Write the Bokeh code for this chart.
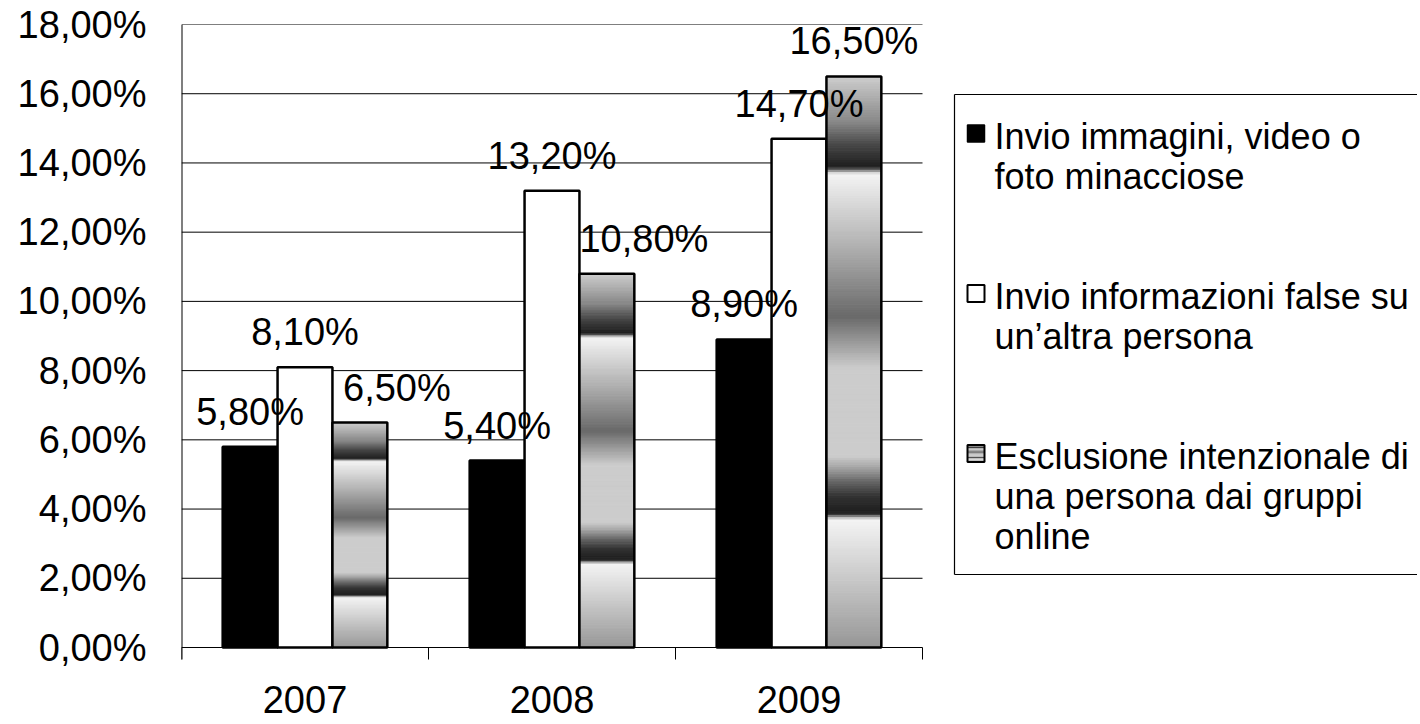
import numpy as np
from bokeh.plotting import figure
from bokeh.models import Range1d, FixedTicker, ColumnDataSource, CustomJSTickFormatter
from bokeh.embed import file_html
from bokeh.resources import INLINE
from bokeh.core.properties import value

# ---------------- data ----------------
years = ["2007", "2008", "2009"]
invio_immagini = [5.8, 5.4, 8.9]          # black bars
invio_informazioni = [8.1, 13.2, 14.7]    # white bars
esclusione = [6.5, 10.8, 16.5]            # gradient bars
y_ticks = [0, 2, 4, 6, 8, 10, 12, 14, 16, 18]
legend_lines = [
    ["Invio immagini, video o", "foto minacciose"],
    ["Invio informazioni false su", "un\u2019altra persona"],
    ["Esclusione intenzionale di", "una persona dai gruppi", "online"],
]

# ---------------- style / layout ----------------
FONT = "Liberation Sans"
BAR_W = 1 / 4.5
BASE_FIX = 11                       # px: lift for alphabetic text placement
label_xoff_px = [[0, 0, 0], [0, 0, 0], [37, 37, 0]]  # manual label nudges (px)
grad_u = [0.0, 0.225, 0.236, 0.265, 0.29, 0.318, 0.336, 0.49, 0.58, 0.70, 0.785, 0.83, 0.842, 0.88, 0.92, 1.0]
grad_g = [150, 244, 30, 50, 100, 170, 204, 204, 105, 175, 220, 244, 30, 70, 135, 205]

N_CAT = len(years)
PLOT_W, PLOT_H = 741, 623          # chart area in px
FRAME_W, FRAME_H = 1236, 698       # frame also hosts legend (right) and year labels (below)
BORDER_L, BORDER_T = 181, 24
Y_MAX = y_ticks[-1]
PPX = PLOT_W / N_CAT               # px per x unit
PPY = PLOT_H / Y_MAX               # px per y unit
X_MAX = FRAME_W / PPX
Y_MIN = Y_MAX - FRAME_H / PPY
TICK = 12 / PPY
YEAR_DY = 52                       # px below the x axis for the year labels


def lx(px):  # px (relative to chart-area left) -> data x
    return px / PPX


def ly(py):  # px (relative to chart-area top) -> data y
    return Y_MAX - py / PPY


def pct(v):
    return f"{v:.2f}%".replace(".", ",")


def gray(u):
    g = int(round(float(np.interp(u, grad_u, grad_g))))
    return "#%02x%02x%02x" % (g, g, g)


p = figure(frame_width=FRAME_W, frame_height=FRAME_H, min_border_left=BORDER_L, min_border_top=BORDER_T,
           min_border_bottom=0, min_border_right=0, x_axis_location=None,
           x_range=Range1d(0, X_MAX), y_range=Range1d(Y_MIN, Y_MAX),
           output_backend="svg", toolbar_location=None)
p.outline_line_color = None
p.background_fill_color = "white"
p.border_fill_color = "white"

# y axis (labels only; line drawn below)
p.yaxis.ticker = FixedTicker(ticks=y_ticks, minor_ticks=[])
p.yaxis.formatter = CustomJSTickFormatter(code="return tick.toFixed(2).replace('.', ',') + '%';")
p.yaxis.major_tick_out = 0
p.yaxis.major_tick_in = 0
p.yaxis.axis_line_color = None
p.yaxis.major_label_standoff = 35
p.yaxis.major_label_text_font = FONT
p.yaxis.major_label_text_font_size = "38px"
p.yaxis.major_label_text_color = "black"
p.grid.visible = False

# gridlines, axis lines and category ticks
p.segment(x0=0, x1=N_CAT, y0=y_ticks[1:], y1=y_ticks[1:], line_color="black", line_width=1)
p.segment(x0=[0], x1=[0], y0=[-TICK], y1=[Y_MAX], line_color="black", line_width=2)
p.segment(x0=[0], x1=[N_CAT], y0=[0], y1=[0], line_color="black", line_width=1)
p.segment(x0=list(range(N_CAT + 1)), x1=list(range(N_CAT + 1)), y0=0, y1=-TICK,
          line_color="black", line_width=1)

centers = [i + 0.5 for i in range(N_CAT)]
series = [invio_immagini, invio_informazioni, esclusione]
offsets = [-BAR_W, 0.0, BAR_W]

# black bars
xs = [c + offsets[0] for c in centers]
p.quad(left=[x - BAR_W / 2 for x in xs], right=[x + BAR_W / 2 for x in xs],
       bottom=0, top=invio_immagini, fill_color="black", line_color="black", line_width=2.5)
# white bars
xs = [c + offsets[1] for c in centers]
p.quad(left=[x - BAR_W / 2 for x in xs], right=[x + BAR_W / 2 for x in xs],
       bottom=0, top=invio_informazioni, fill_color="white", line_color="black", line_width=2.5)
# gradient bars (sliced fill)
N = 240
sl = dict(left=[], right=[], bottom=[], top=[], color=[])
xs = [c + offsets[2] for c in centers]
for x, v in zip(xs, esclusione):
    for k in range(N):
        u0, u1 = k / N, (k + 1) / N
        sl["left"].append(x - BAR_W / 2)
        sl["right"].append(x + BAR_W / 2)
        sl["bottom"].append(v * u0)
        sl["top"].append(v * u1)
        sl["color"].append(gray((u0 + u1) / 2))
p.quad(left="left", right="right", bottom="bottom", top="top", fill_color="color",
       line_color="color", line_width=1, source=ColumnDataSource(sl))
p.quad(left=[x - BAR_W / 2 for x in xs], right=[x + BAR_W / 2 for x in xs],
       bottom=0, top=esclusione, fill_alpha=0, line_color="black", line_width=2.5)

# data labels
lab = dict(x=[], y=[], text=[], xoff=[])
for s, (vals, off) in enumerate(zip(series, offsets)):
    for j, (c, v) in enumerate(zip(centers, vals)):
        lab["x"].append(c + off)
        lab["y"].append(v)
        lab["text"].append(pct(v))
        lab["xoff"].append(label_xoff_px[s][j])
p.text(x="x", y="y", text="text", x_offset="xoff", y_offset=-24 - BASE_FIX, source=ColumnDataSource(lab),
       text_font=value(FONT), text_font_size=value("38px"), text_color="black",
       text_align="center", text_baseline="alphabetic")

# category labels (years)
p.text(x=centers, y=[0] * N_CAT, text=years, y_offset=YEAR_DY,
       text_font=value(FONT), text_font_size=value("38px"), text_color="black",
       text_align="center", text_baseline="alphabetic")

# ---------------- legend (inside the frame, right of the chart area) ----------------
box_l, box_t, box_b = 773, 70, 550       # px, relative to chart-area top-left
right_edge = FRAME_W
p.segment(x0=[lx(box_l)] * 3, y0=[ly(box_t), ly(box_t), ly(box_b)],
          x1=[lx(box_l), lx(right_edge), lx(right_edge)], y1=[ly(box_b), ly(box_t), ly(box_b)],
          line_color="black", line_width=1.2)

sq_cx, sq = 794.5, 17
first_base = [123 + 160 * i for i in range(3)]
sq_cy = [b - 14 for b in first_base]


def sq_quad(i, **kw):
    p.quad(left=[lx(sq_cx - sq / 2)], right=[lx(sq_cx + sq / 2)],
           top=[ly(sq_cy[i] - sq / 2)], bottom=[ly(sq_cy[i] + sq / 2)], **kw)


sq_quad(0, fill_color="black", line_color="black", line_width=1.5)
sq_quad(1, fill_color="white", line_color="black", line_width=2)
M = 17
gsl = dict(left=[], right=[], bottom=[], top=[], color=[])
for k in range(M):
    u0, u1 = k / M, (k + 1) / M
    gsl["left"].append(lx(sq_cx - sq / 2))
    gsl["right"].append(lx(sq_cx + sq / 2))
    gsl["bottom"].append(ly(sq_cy[2] + sq / 2 - sq * u0))
    gsl["top"].append(ly(sq_cy[2] + sq / 2 - sq * u1))
    gsl["color"].append(gray((u0 + u1) / 2))
p.quad(left="left", right="right", bottom="bottom", top="top", fill_color="color",
       line_color="color", line_width=0.5, source=ColumnDataSource(gsl))
sq_quad(2, fill_alpha=0, line_color="black", line_width=2)

lt = dict(x=[], y=[], text=[])
for i, lines in enumerate(legend_lines):
    for k, t in enumerate(lines):
        lt["x"].append(lx(813))
        lt["y"].append(ly(first_base[i] + 40 * k - BASE_FIX))
        lt["text"].append(t)
p.text(x="x", y="y", text="text", source=ColumnDataSource(lt), text_font=value(FONT),
       text_font_size=value("36px"), text_color="black", text_align="left", text_baseline="alphabetic")

open("out.html", "w").write(file_html(p, INLINE))
